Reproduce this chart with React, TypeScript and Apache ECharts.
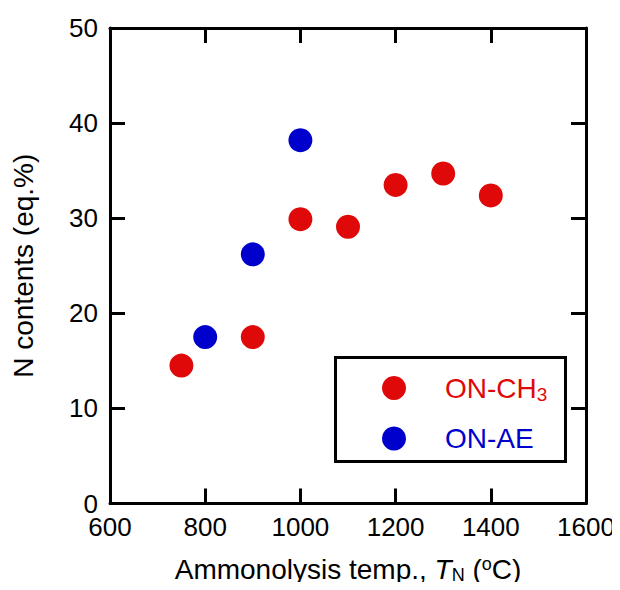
import React, { useEffect, useRef } from "react";
import * as echarts from "echarts";

const chTemps = [750, 900, 1000, 1100, 1200, 1300, 1400];
const chN = [14.5, 17.5, 29.9, 29.1, 33.5, 34.7, 32.4];
const aeTemps = [800, 900, 1000];
const aeN = [17.5, 26.2, 38.2];

const seriesNames = ["ON-CH3", "ON-AE"];
const xRange = [600, 1600, 200];
const yRange = [0, 50, 10];

const RED = "#df0909";
const BLUE = "#0000cc";
const FONT = "'Liberation Sans', Arial, Helvetica, sans-serif";

export default function App() {
  const ref = useRef<HTMLDivElement>(null);
  useEffect(() => {
    if (!ref.current) return;
    const chart = echarts.init(ref.current, null, { renderer: "svg" });
    const axisCommon = {
      type: "value" as const,
      axisLine: { show: true, onZero: false, lineStyle: { color: "#000", width: 3 } },
      axisTick: { show: true, inside: true, length: 15, lineStyle: { color: "#000", width: 3 } },
      splitLine: { show: false },
    };
    chart.setOption({
      animation: false,
      textStyle: { fontFamily: FONT },
      grid: { left: 102, top: 20, width: 476, height: 475.5, outerBoundsMode: "none", containLabel: false },
      xAxis: [
        {
          ...axisCommon,
          position: "bottom",
          min: xRange[0],
          max: xRange[1],
          interval: xRange[2],
          axisLabel: { fontSize: 26, color: "#000", margin: 10, fontFamily: FONT, formatter: (v: number) => String(v) },
          name: "Ammonolysis temp., {i|T}{sub|N} ({sup|o}C)",
          nameLocation: "middle",
          nameGap: 51,
          nameTextStyle: {
            fontSize: 28,
            color: "#000",
            fontFamily: FONT,
            rich: {
              i: { fontSize: 28, fontStyle: "italic", color: "#000", fontFamily: FONT },
              sub: { fontSize: 18, color: "#000", verticalAlign: "bottom", padding: [11, 0, 0, 0], fontFamily: FONT },
              sup: { fontSize: 18, color: "#000", verticalAlign: "top", padding: [0, 0, 9, 0], fontFamily: FONT },
            },
          },
        },
        {
          ...axisCommon,
          position: "top",
          min: xRange[0],
          max: xRange[1],
          interval: xRange[2],
          axisLabel: { show: false },
        },
      ],
      yAxis: [
        {
          ...axisCommon,
          position: "left",
          min: yRange[0],
          max: yRange[1],
          interval: yRange[2],
          axisLabel: { fontSize: 26, color: "#000", margin: 12, fontFamily: FONT, formatter: (v: number) => String(v) },
          name: "N contents (eq.%)",
          nameLocation: "middle",
          nameGap: 73,
          nameRotate: 90,
          nameTextStyle: { fontSize: 28, color: "#000", fontFamily: FONT },
        },
        {
          ...axisCommon,
          position: "right",
          min: yRange[0],
          max: yRange[1],
          interval: yRange[2],
          axisLabel: { show: false },
        },
      ],
      legend: {
        orient: "vertical",
        left: 374,
        top: 366,
        padding: 0,
        itemWidth: 24,
        itemHeight: 24,
        itemGap: 21,
        icon: "circle",
        data: seriesNames,
        formatter: (name: string) =>
          name === "ON-CH3" ? "{r|ON-CH}{rs|3}" : "{b|ON-AE}",
        textStyle: {
          fontSize: 28,
          fontFamily: FONT,
          rich: {
            r: { color: RED, fontSize: 28, padding: [0, 0, 0, 34], fontFamily: FONT },
            rs: { color: RED, fontSize: 19, verticalAlign: "bottom", padding: [12, 0, 0, 0], fontFamily: FONT },
            b: { color: BLUE, fontSize: 28, padding: [0, 0, 0, 34], fontFamily: FONT },
          },
        },
      },
      graphic: [
        {
          type: "rect",
          left: 325,
          top: 347,
          shape: { width: 230, height: 104 },
          style: { fill: "none", stroke: "#000", lineWidth: 3 },
          z: 10,
        },
      ],
      series: [
        {
          name: seriesNames[0],
          type: "scatter",
          symbolSize: 24,
          itemStyle: { color: RED, opacity: 1 },
          data: chTemps.map((t, i) => [t, chN[i]]),
        },
        {
          name: seriesNames[1],
          type: "scatter",
          symbolSize: 24,
          itemStyle: { color: BLUE, opacity: 1 },
          data: aeTemps.map((t, i) => [t, aeN[i]]),
        },
      ],
    });
    return () => chart.dispose();
  }, []);
  return <div ref={ref} style={{ width: 604, height: 582, marginBottom: -8 }} />;
}
